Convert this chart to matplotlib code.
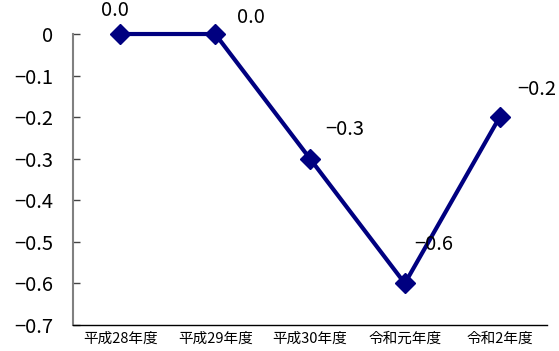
import matplotlib.pyplot as plt

plt.rcParams['font.family'] = ['Noto Sans CJK JP', 'DejaVu Sans']

# Fiscal years and values
years = ["平成28年度", "平成29年度", "平成30年度", "令和元年度", "令和2年度"]
values = [0.0, 0.0, -0.3, -0.6, -0.2]
yticks = [0, -0.1, -0.2, -0.3, -0.4, -0.5, -0.6, -0.7]

# Label offsets (points) for each data label
label_offsets = [(-4, 17), (26, 12), (25, 21), (21, 28), (27, 20)]

fig = plt.figure(figsize=(5.59, 3.51), dpi=100)
ax = fig.add_axes([0.1306, 0.0741, 0.848, 0.829])

x = list(range(len(years)))
ax.plot(x, values, color="#000080", linewidth=3, marker="D", markersize=10,
        clip_on=False, zorder=3)

for xi, v, (dx, dy) in zip(x, values, label_offsets):
    txt = f"{v:.1f}".replace("-", "−")
    ax.annotate(txt, (xi, v), xytext=(dx, dy), textcoords="offset points",
                ha="center", va="center", fontsize=14.5)

ax.set_xlim(-0.5, len(years) - 0.5)
ax.set_ylim(-0.7, 0)
ax.set_xticks(x)
ax.set_xticklabels(years, fontsize=10.5)
ax.set_yticks(yticks)
ax.set_yticklabels([("%g" % t).replace("-", "−") for t in yticks], fontsize=14.5)

ax.tick_params(axis="x", length=0, pad=5)
ax.tick_params(axis="y", direction="in", length=5, width=1, color="#444444", pad=14)

for side in ["top", "right"]:
    ax.spines[side].set_visible(False)
ax.spines["left"].set_color("#808080")
ax.spines["left"].set_linewidth(1.5)
ax.spines["bottom"].set_color("black")
ax.spines["bottom"].set_linewidth(1)

fig.savefig("out.png", dpi=100)
